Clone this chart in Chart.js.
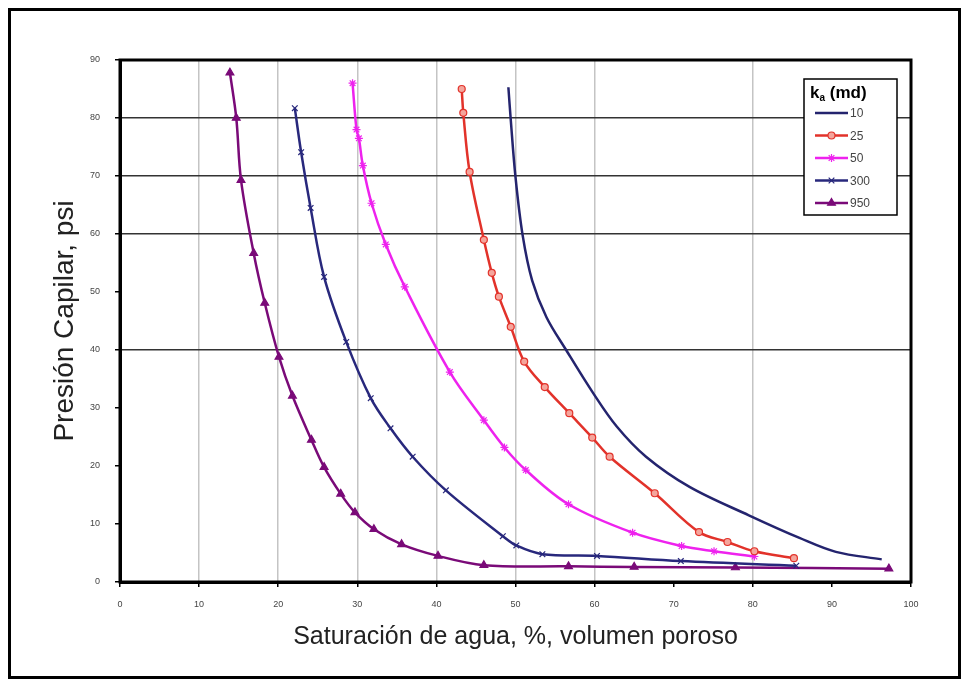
<!DOCTYPE html>
<html>
<head>
<meta charset="utf-8">
<script src="https://cdn.jsdelivr.net/npm/chart.js@4.4.0/dist/chart.umd.min.js"></script>
<style>
  html, body { margin: 0; padding: 0; background: #fff; }
  #wrap { width: 968px; height: 686px; }
</style>
</head>
<body>
<div id="wrap"><canvas id="grafico" width="968" height="686"></canvas></div>
<script>
// Datos: saturación de agua (%) y presión capilar (psi)
const etiquetasSerie = ['10', '25', '50', '300', '950'];

const sw10 = [49.1, 49.4, 50.0, 50.9, 52.1, 53.9, 56.4, 59.8, 62.8, 66.5, 72.0, 79.5, 85.9, 90.5, 96.3];
const pc10 = [85.3, 79.7, 69.8, 59.8, 52.0, 45.7, 40.0, 32.6, 26.8, 21.6, 16.4, 11.5, 7.6, 5.2, 3.9];

const sw25 = [43.2, 43.4, 44.2, 46.0, 47.0, 47.9, 49.4, 51.1, 53.7, 56.8, 59.7, 61.9, 67.6, 73.2, 76.8, 80.2, 85.2];
const pc25 = [85.0, 80.9, 70.7, 59.0, 53.3, 49.2, 44.0, 38.0, 33.6, 29.1, 24.9, 21.6, 15.3, 8.6, 6.9, 5.3, 4.1];

const sw50 = [29.4, 29.9, 30.2, 30.7, 31.8, 33.6, 36.0, 41.7, 46.0, 48.6, 51.3, 56.7, 64.8, 71.0, 75.1, 80.2];
const pc50 = [86.0, 78.0, 76.5, 71.8, 65.3, 58.2, 50.9, 36.2, 27.9, 23.2, 19.3, 13.4, 8.5, 6.2, 5.3, 4.4];

const sw300 = [22.1, 22.9, 24.1, 25.8, 28.6, 31.7, 34.2, 37.0, 41.2, 48.4, 50.1, 53.4, 60.3, 70.9, 85.5];
const pc300 = [81.7, 74.1, 64.5, 52.6, 41.4, 31.7, 26.5, 21.6, 15.8, 7.9, 6.3, 4.8, 4.5, 3.6, 2.8];

const sw950 = [13.9, 14.7, 15.3, 16.9, 18.3, 20.1, 21.8, 24.2, 25.8, 27.9, 29.7, 32.1, 35.6, 40.2, 46.0, 56.7, 65.0, 77.8, 97.2];
const pc950 = [87.8, 80.0, 69.3, 56.7, 48.1, 38.8, 32.1, 24.5, 19.8, 15.2, 12.0, 9.1, 6.5, 4.5, 2.9, 2.7, 2.6, 2.5, 2.3];

// Líneas de cuadrícula que sí aparecen en la figura original
const lineasY = [40, 60, 70, 80];
const lineasX = [10, 20, 30, 40, 50, 60, 80];

function puntos(xs, ys) {
    return xs.map((x, i) => ({ x: x, y: ys[i] }));
}

function serie(etiqueta, xs, ys, color, estilo, relleno, radio) {
    return {
        label: etiqueta,
        data: puntos(xs, ys),
        borderColor: color,
        backgroundColor: relleno,
        borderWidth: 2.5,
        pointStyle: estilo,
        pointRadius: estilo ? radio : 0,
        pointBorderColor: color,
        pointBackgroundColor: relleno,
        pointBorderWidth: 1.2,
        tension: 0.35,
        fill: false
    };
}

// Marco exterior, borde del área de trazado y leyenda dentro del área
const pluginMarco = {
    id: 'marco',
    beforeDraw(chart) {
        const ctx = chart.ctx;
        ctx.save();
        ctx.fillStyle = '#fff';
        ctx.fillRect(0, 0, chart.width, chart.height);
        ctx.restore();
    },
    afterDatasetsDraw(chart) {
        const ctx = chart.ctx;
        const a = chart.chartArea;
        ctx.save();
        ctx.strokeStyle = '#000';
        ctx.lineWidth = 3;
        ctx.strokeRect(a.left, a.top, a.right - a.left, a.bottom - a.top);
        ctx.lineWidth = 3;
        ctx.strokeRect(9.5, 9.5, 950, 668);

        // leyenda
        const lx = 804, ly = 79, lw = 93, lh = 136;
        ctx.fillStyle = '#fff';
        ctx.fillRect(lx, ly, lw, lh);
        ctx.lineWidth = 1.5;
        ctx.strokeRect(lx, ly, lw, lh);

        ctx.fillStyle = '#000';
        ctx.textBaseline = 'alphabetic';
        ctx.textAlign = 'left';
        ctx.font = 'bold 17px "Liberation Sans", Arial, sans-serif';
        ctx.fillText('k', 810, 98);
        let ancho = ctx.measureText('k').width;
        ctx.font = 'bold 10px "Liberation Sans", Arial, sans-serif';
        ctx.fillText('a', 810 + ancho, 101);
        ancho += ctx.measureText('a').width;
        ctx.font = 'bold 17px "Liberation Sans", Arial, sans-serif';
        ctx.fillText(' (md)', 810 + ancho, 98);

        chart.data.datasets.forEach((ds, i) => {
            const y = 113 + i * 22.5;
            ctx.strokeStyle = ds.borderColor;
            ctx.lineWidth = 2.5;
            ctx.beginPath();
            ctx.moveTo(815, y);
            ctx.lineTo(848, y);
            ctx.stroke();
            if (ds.pointStyle) {
                ctx.fillStyle = ds.pointBackgroundColor;
                ctx.strokeStyle = ds.borderColor;
                ctx.lineWidth = ds.pointBorderWidth;
                Chart.helpers.drawPoint(ctx, {
                    pointStyle: ds.pointStyle,
                    radius: ds.pointRadius,
                    borderWidth: ds.pointBorderWidth,
                    rotation: 0
                }, 831.5, y);
            }
            ctx.fillStyle = '#444';
            ctx.font = '12px "Liberation Sans", Arial, sans-serif';
            ctx.textBaseline = 'middle';
            ctx.fillText(ds.label, 850, y + 1);
        });
        ctx.restore();
    }
};

const fuenteEje = { family: '"Liberation Sans", Arial, sans-serif', size: 9 };

new Chart(document.getElementById('grafico'), {
    type: 'line',
    data: {
        datasets: [
            serie(etiquetasSerie[0], sw10, pc10, '#24246e', false, '#24246e', 0),
            serie(etiquetasSerie[1], sw25, pc25, '#e2322a', 'circle', '#f4a59c', 3.5),
            serie(etiquetasSerie[2], sw50, pc50, '#ee22ee', 'star', '#ee22ee', 4),
            serie(etiquetasSerie[3], sw300, pc300, '#28287c', 'crossRot', '#28287c', 4),
            serie(etiquetasSerie[4], sw950, pc950, '#7a0a78', 'triangle', '#7a0a78', 4.5)
        ]
    },
    options: {
        responsive: false,
        animation: false,
        devicePixelRatio: 1,
        layout: { padding: { left: 0, top: 60, right: 57, bottom: 0 } },
        plugins: {
            legend: { display: false },
            tooltip: { enabled: false }
        },
        scales: {
            x: {
                type: 'linear',
                min: 0,
                max: 100,
                afterFit: s => { s.height = 104; },
                ticks: { stepSize: 10, font: fuenteEje, color: '#444', padding: 12, maxRotation: 0 },
                grid: {
                    color: c => lineasX.includes(c.tick.value) ? '#c4c4c4' : 'rgba(0,0,0,0)',
                    tickColor: '#000',
                    tickLength: 5,
                    lineWidth: 1.5
                },
                border: { color: '#000', width: 3 },
                title: {
                    display: true,
                    text: 'Saturación de agua, %, volumen poroso',
                    font: { family: '"Liberation Sans", Arial, sans-serif', size: 25 },
                    color: '#222',
                    padding: { top: 0, bottom: 34 }
                }
            },
            y: {
                min: 0,
                max: 90,
                afterFit: s => { s.width = 120; },
                ticks: { stepSize: 10, font: fuenteEje, color: '#444', padding: 15 },
                grid: {
                    color: c => lineasY.includes(c.tick.value) ? '#333' : 'rgba(0,0,0,0)',
                    tickColor: '#000',
                    tickLength: 5,
                    lineWidth: 1.5
                },
                border: { color: '#000', width: 3 },
                title: {
                    display: true,
                    text: 'Presión Capilar, psi',
                    font: { family: '"Liberation Sans", Arial, sans-serif', size: 28 },
                    color: '#222',
                    padding: { top: 48, bottom: 0 }
                }
            }
        }
    },
    plugins: [pluginMarco]
});
</script>
</body>
</html>
